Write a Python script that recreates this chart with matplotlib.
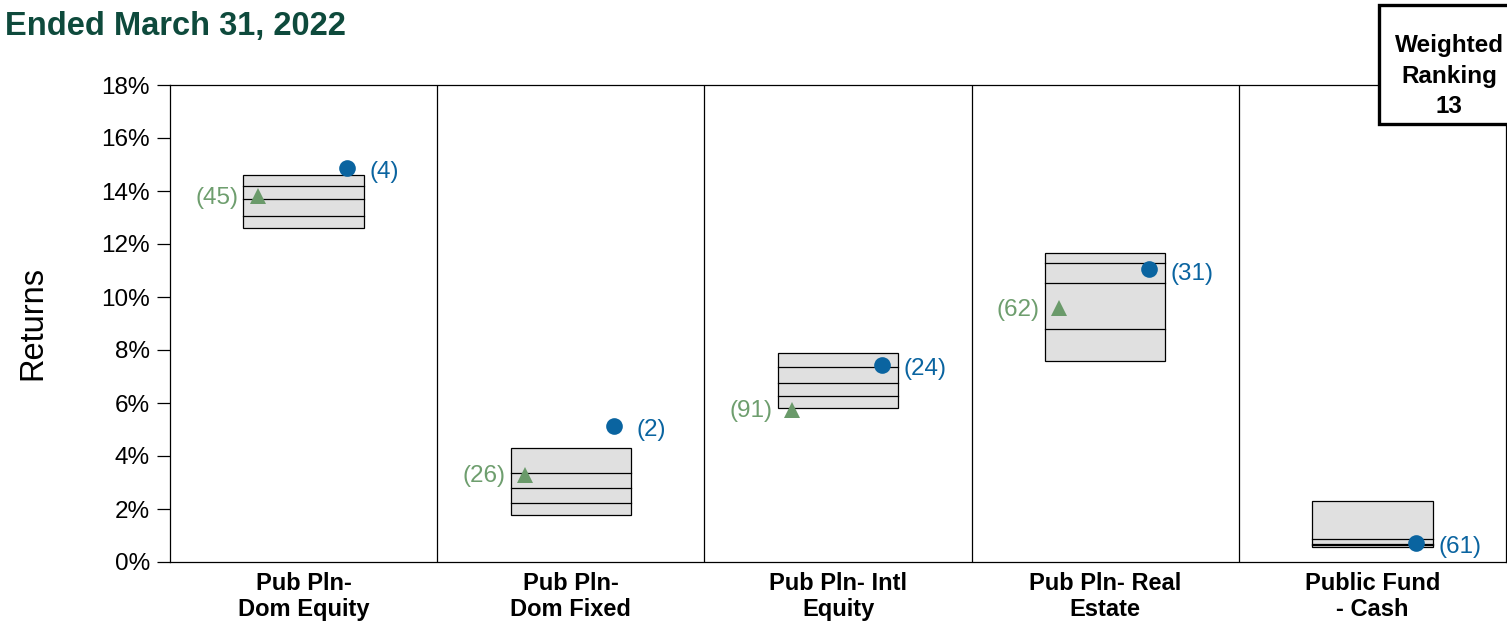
import matplotlib
matplotlib.use("Agg")
import matplotlib.pyplot as plt
from matplotlib.patches import Rectangle
from matplotlib.ticker import FuncFormatter

plt.rcParams['font.family'] = ['Liberation Sans', 'DejaVu Sans']

# Universe percentile ranges (5th, 25th, median, 75th, 95th)
categories = ["Pub Pln-\nDom Equity", "Pub Pln-\nDom Fixed", "Pub Pln- Intl\nEquity",
              "Pub Pln- Real\nEstate", "Public Fund\n- Cash"]
p5 = [14.60, 4.29, 7.87, 11.67, 2.30]
p25 = [14.19, 3.35, 7.35, 11.27, 0.87]
p50 = [13.70, 2.78, 6.74, 10.54, 0.67]
p75 = [13.05, 2.21, 6.26, 8.80, 0.63]
p95 = [12.59, 1.77, 5.80, 7.60, 0.58]

# Fund returns and percentile ranks
fund_returns = [14.86, 5.13, 7.43, 11.04, 0.71]
fund_ranks = [4, 2, 24, 31, 61]

# Benchmark returns and percentile ranks (no benchmark for cash)
bench_returns = [13.80, 3.28, 5.75, 9.58, None]
bench_ranks = [45, 26, 91, 62, None]

weighted_ranking = 13
title = "Ended March 31, 2022"

BLUE = "#0A64A0"
GREEN = "#6A9A6A"
GREEN_TXT = "#6E9E6E"
BOX_FACE = "#E0E0E0"

W, H = 1507, 623
fig = plt.figure(figsize=(W / 100, H / 100), dpi=100)
ax = fig.add_axes([170 / W, (H - 562) / H, (1506 - 170) / W, (562 - 85) / H])

box_w = 0.45
for i in range(len(categories)):
    ax.add_patch(Rectangle((i - box_w / 2, p95[i]), box_w, p5[i] - p95[i],
                           facecolor=BOX_FACE, edgecolor="black", linewidth=0.9, zorder=2))
    for v in (p25[i], p50[i], p75[i]):
        ax.plot([i - box_w / 2, i + box_w / 2], [v, v], color="black", linewidth=0.9, zorder=3)

    # fund marker and rank label
    fx = i + 0.163
    ax.plot(fx, fund_returns[i], marker="o", markersize=12, color=BLUE,
            markeredgewidth=0, zorder=5)
    ax.annotate(f"({fund_ranks[i]})", (fx, fund_returns[i]), xytext=(16, -3),
                textcoords="offset points", ha="left", va="center",
                fontsize=17.5, color=BLUE, zorder=6)

    # benchmark marker and rank label
    if bench_returns[i] is not None:
        bx = i - 0.172
        ax.plot(bx, bench_returns[i], marker="^", markersize=12, color=GREEN,
                markeredgewidth=0, zorder=5)
        ax.annotate(f"({bench_ranks[i]})", (bx, bench_returns[i]), xytext=(-14, -1),
                    textcoords="offset points", ha="right", va="center",
                    fontsize=17.5, color=GREEN_TXT, zorder=6)

# panel separators
for s in range(1, len(categories)):
    ax.axvline(s - 0.5, color="black", linewidth=0.9, zorder=1)

ax.set_xlim(-0.5, len(categories) - 0.5)
ax.set_ylim(0, 18)
ax.set_yticks(range(0, 19, 2))
ax.yaxis.set_major_formatter(FuncFormatter(lambda v, _: f"{v:.0f}%"))
ax.tick_params(axis="y", direction="out", length=9.5, width=0.9, pad=5, labelsize=17.5)
ax.set_xticks(range(len(categories)))
ax.set_xticklabels(categories, fontsize=17, fontweight="bold", linespacing=1.15)
ax.tick_params(axis="x", length=0, pad=7.5)
for sp in ax.spines.values():
    sp.set_linewidth(0.9)
ax.set_ylabel("Returns", fontsize=23.5, labelpad=38)

fig.text(5 / W, 1 - 27 / H, title, fontsize=23.5, fontweight="bold",
         color="#0E4A3C", ha="left", va="center")

# weighted ranking box
fig.add_artist(Rectangle((1379 / W, 1 - 124 / H), 140 / W, 119 / H,
                         transform=fig.transFigure, facecolor="white",
                         edgecolor="black", linewidth=2.4, zorder=10))
fig.text(1449 / W, 1 - 76 / H, f"Weighted\nRanking\n{weighted_ranking}",
         fontsize=17.5, fontweight="bold", ha="center", va="center",
         linespacing=1.4, zorder=11)

fig.savefig("out.png", dpi=100)
